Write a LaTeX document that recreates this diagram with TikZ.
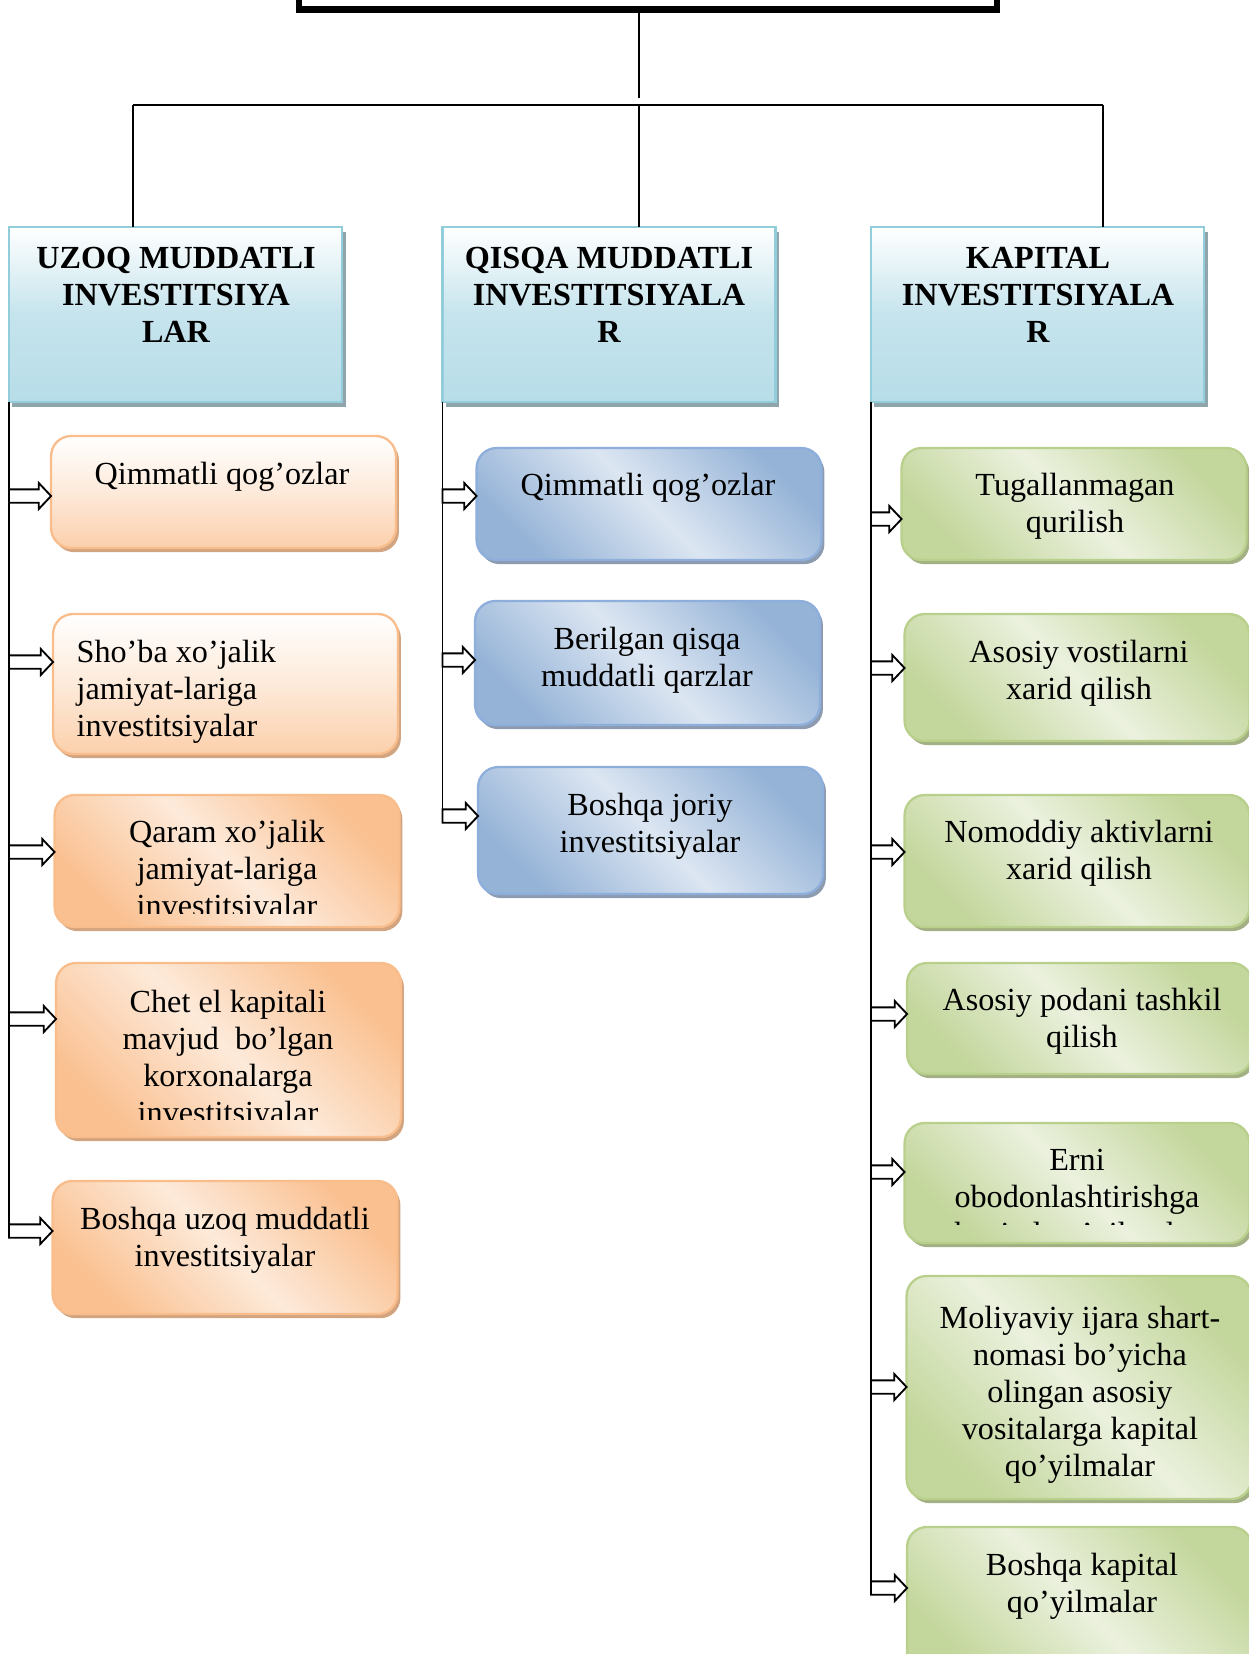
\documentclass[tikz,border=0pt]{standalone}
\usepackage{fontspec}
\setmainfont{Liberation Serif}
\usetikzlibrary{positioning, calc, shadows}
\definecolor{hdrblue}{HTML}{B7DDE8}
\definecolor{hdrline}{HTML}{92CDDC}
\definecolor{hdrshade}{HTML}{8FA5AB}
\definecolor{orng}{HTML}{FAC090}
\definecolor{orngpale}{HTML}{FDEADA}
\definecolor{orngline}{HTML}{F9BD8B}
\definecolor{orngshade}{HTML}{D2A47F}
\definecolor{bluedk}{HTML}{95B3D7}
\definecolor{bluepale}{HTML}{DCE6F2}
\definecolor{blueline}{HTML}{8EAEDB}
\definecolor{blueshade}{HTML}{8C9BB0}
\definecolor{grn}{HTML}{C3D69B}
\definecolor{grnpale}{HTML}{EBF1DE}
\definecolor{grnline}{HTML}{B9D08C}
\definecolor{grnshade}{HTML}{A3B083}

\begin{document}
\begin{tikzpicture}[
    x=0.435pt, y=-0.435pt,
    every node/.style={font=\fontsize{14}{16.1}\selectfont, outer sep=0pt},
    topbox/.style={draw, line width=3pt, minimum width=303.6pt, minimum height=26pt},
    hdrbox/.style={draw=hdrline, line width=1pt, top color=white, bottom color=hdrblue,
      middle color=hdrblue!80!white, minimum width=144.9pt, minimum height=76.1pt,
      drop shadow={shadow xshift=1.5pt, shadow yshift=-2.2pt, fill=hdrshade, opacity=1}},
    hdrtext/.style={font=\fontsize{14}{16.1}\selectfont\bfseries, align=center},
    itembox/.style={rounded corners=8.7pt, line width=1pt, minimum width=150pt},
    oboxlt/.style={itembox, draw=orngline, top color=white, bottom color=orng!75!white,
      middle color=orngpale,
      drop shadow={shadow xshift=1.3pt, shadow yshift=-1.8pt, fill=orngshade, opacity=1}},
    obox/.style={itembox, draw=orngline, top color=orng, bottom color=orng,
      middle color=orngpale, shading angle=-45,
      drop shadow={shadow xshift=1.3pt, shadow yshift=-1.8pt, fill=orngshade, opacity=1}},
    bbox/.style={itembox, draw=blueline, top color=bluedk, bottom color=bluedk,
      middle color=bluepale, shading angle=-45,
      drop shadow={shadow xshift=1.3pt, shadow yshift=-1.8pt, fill=blueshade, opacity=1}},
    gbox/.style={itembox, draw=grnline, top color=grn, bottom color=grn,
      middle color=grnpale, shading angle=-45,
      drop shadow={shadow xshift=1.3pt, shadow yshift=-1.8pt, fill=grnshade, opacity=1}},
    txt/.style={align=center},
    link/.style={line width=0.8pt},
    blockarr/.style={draw, fill=white, line width=0.8pt, to path={
      ($(\tikztostart)+(0pt,2.9pt)$) -- ($(\tikztotarget)+(-5.4pt,2.9pt)$)
      -- ($(\tikztotarget)+(-5.4pt,5.7pt)$) -- (\tikztotarget)
      -- ($(\tikztotarget)+(-5.4pt,-5.7pt)$) -- ($(\tikztotarget)+(-5.4pt,-2.9pt)$)
      -- ($(\tikztostart)+(0pt,-2.9pt)$) -- cycle}},
  ]
  \useasboundingbox (0,0) rectangle (1249,1654);

  % top of the tree
  \node[topbox] (top) at (648,-20) {};
  \coordinate (j0) at (639,98);
  \coordinate (jl) at (133,105);
  \coordinate (jm) at (639,105);
  \coordinate (jr) at (1103,105);
  \draw[link] (top.south -| j0) -- (j0);
  \draw[link] (jl) -- (jr);

  % headers
  \node[hdrbox] (h1) at (175.5,314.5) {};
  \node[hdrtext] (h1t) at (176,294.5) {UZOQ MUDDATLI\\INVESTITSIYA\\LAR};
  \node[hdrbox] (h2) at (609,314.5) {};
  \node[hdrtext] (h2t) at (609,294.5) {QISQA MUDDATLI\\INVESTITSIYALA\\R};
  \node[hdrbox] (h3) at (1037.5,314.5) {};
  \node[hdrtext] (h3t) at (1038,294.5) {KAPITAL\\INVESTITSIYALA\\R};

  \draw[link] (jl) -- (jl |- h1.north);
  \draw[link] (jm) -- (jm |- h2.north);
  \draw[link] (jr) -- (jr |- h3.north);

  % bus lines
  \coordinate (ue) at (10,1235);
  \coordinate (qe) at (444,822);
  \coordinate (ke) at (871,1593);
  \draw[link] (h1.south west) -- (h1.south west |- ue);
  \draw[link] (h2.south west) -- (h2.south west |- qe);
  \draw[link] (h3.south west) -- (h3.south west |- ke);

  % uzoq muddatli
  \node[oboxlt, minimum height=48.7pt] (u1) at (223.5,492) {};
  \node[txt] (u1t) at (222,477) {Qimmatli qog’ozlar};
  \node[oboxlt, minimum height=60.9pt] (u2) at (225.5,684) {};
  \node[align=left, anchor=west] (u2t) at (69,692) {Sho’ba xo’jalik\\jamiyat-lariga\\investitsiyalar};
  \node[obox, minimum height=57.4pt] (u3) at (227,861) {};
  \begin{scope}
    \clip (54,795) rectangle (400,913);
    \node[txt] (u3t) at (227,872) {Qaram xo’jalik\\jamiyat-lariga\\investitsiyalar};
  \end{scope}
  \node[obox, minimum height=75.7pt] (u4) at (228.5,1050) {};
  \begin{scope}
    \clip (56,963) rectangle (401,1119);
    \node[txt] (u4t) at (228,1060.5) {Chet el kapitali\\mavjud\ \ bo’lgan\\korxonalarga\\investitsiyalar};
  \end{scope}
  \node[obox, minimum height=57.9pt] (u5) at (225,1247.5) {};
  \node[txt] (u5t) at (225,1240) {Boshqa uzoq muddatli\\investitsiyalar};

  % qisqa muddatli
  \node[bbox, minimum height=48.7pt] (q1) at (649,504) {};
  \node[txt] (q1t) at (648,488) {Qimmatli qog’ozlar};
  \node[bbox, minimum height=53.9pt] (q2) at (647.5,663) {};
  \node[txt] (q2t) at (647,660) {Berilgan qisqa\\muddatli qarzlar};
  \node[bbox, minimum height=55.2pt] (q3) at (650.5,830.5) {};
  \node[txt] (q3t) at (650,826) {Boshqa joriy\\investitsiyalar};

  % kapital
  \node[gbox, minimum height=48.7pt] (k1) at (1074,504) {};
  \node[txt] (k1t) at (1075,506.5) {Tugallanmagan\\qurilish};
  \node[gbox, minimum height=55.2pt] (k2) at (1077,677.5) {};
  \node[txt] (k2t) at (1079,673) {Asosiy vostilarni\\xarid qilish};
  \node[gbox, minimum height=57.4pt] (k3) at (1077,861) {};
  \node[txt] (k3t) at (1079,853.5) {Nomoddiy aktivlarni\\xarid qilish};
  \node[gbox, minimum height=48.3pt] (k4) at (1079.5,1018.5) {};
  \node[txt] (k4t) at (1082,1021) {Asosiy podani tashkil\\qilish};
  \node[gbox, minimum height=52.2pt] (k5) at (1077,1183) {};
  \begin{scope}
    \clip (906,1123) rectangle (1250,1224);
    \node[txt] (k5t) at (1077,1200) {Erni\\obodonlashtirishga\\kapital qo’yilmalar};
  \end{scope}
  \node[gbox, minimum height=97pt] (k6) at (1079,1387.5) {};
  \node[txt] (k6t) at (1080,1394.5) {Moliyaviy ijara shart-\\nomasi bo’yicha\\olingan asosiy\\vositalarga kapital\\qo’yilmalar};
  \node[gbox, minimum height=66.6pt] (k7) at (1079.5,1603.5) {};
  \node[txt] (k7t) at (1082,1586) {Boshqa kapital\\qo’yilmalar};

  % arrows from the bus lines
  \coordinate (ua1) at (h1.south west |- 0,496);
  \coordinate (ua2) at (h1.south west |- 0,662);
  \coordinate (ua3) at (h1.south west |- 0,852);
  \coordinate (ua4) at (h1.south west |- 0,1019);
  \coordinate (ua5) at (h1.south west |- 0,1231);
  \draw[blockarr] (ua1) to (u1.west |- ua1);
  \draw[blockarr] (ua2) to (u2.west |- ua2);
  \draw[blockarr] (ua3) to (u3.west |- ua3);
  \draw[blockarr] (ua4) to (u4.west |- ua4);
  \draw[blockarr] (ua5) to (u5.west |- ua5);

  \coordinate (qa1) at (h2.south west |- 0,496);
  \coordinate (qa2) at (h2.south west |- 0,660);
  \coordinate (qa3) at (h2.south west |- 0,816);
  \draw[blockarr] (qa1) to (q1.west |- qa1);
  \draw[blockarr] (qa2) to (q2.west |- qa2);
  \draw[blockarr] (qa3) to (q3.west |- qa3);

  \coordinate (ka1) at (h3.south west |- 0,519);
  \coordinate (ka2) at (h3.south west |- 0,668);
  \coordinate (ka3) at (h3.south west |- 0,852);
  \coordinate (ka4) at (h3.south west |- 0,1014);
  \coordinate (ka5) at (h3.south west |- 0,1172);
  \coordinate (ka6) at (h3.south west |- 0,1387);
  \coordinate (ka7) at (h3.south west |- 0,1588);
  \draw[blockarr] (ka1) to (k1.west |- ka1);
  \draw[blockarr] (ka2) to (k2.west |- ka2);
  \draw[blockarr] (ka3) to (k3.west |- ka3);
  \draw[blockarr] (ka4) to (k4.west |- ka4);
  \draw[blockarr] (ka5) to (k5.west |- ka5);
  \draw[blockarr] (ka6) to (k6.west |- ka6);
  \draw[blockarr] (ka7) to (k7.west |- ka7);
\end{tikzpicture}
\end{document}
